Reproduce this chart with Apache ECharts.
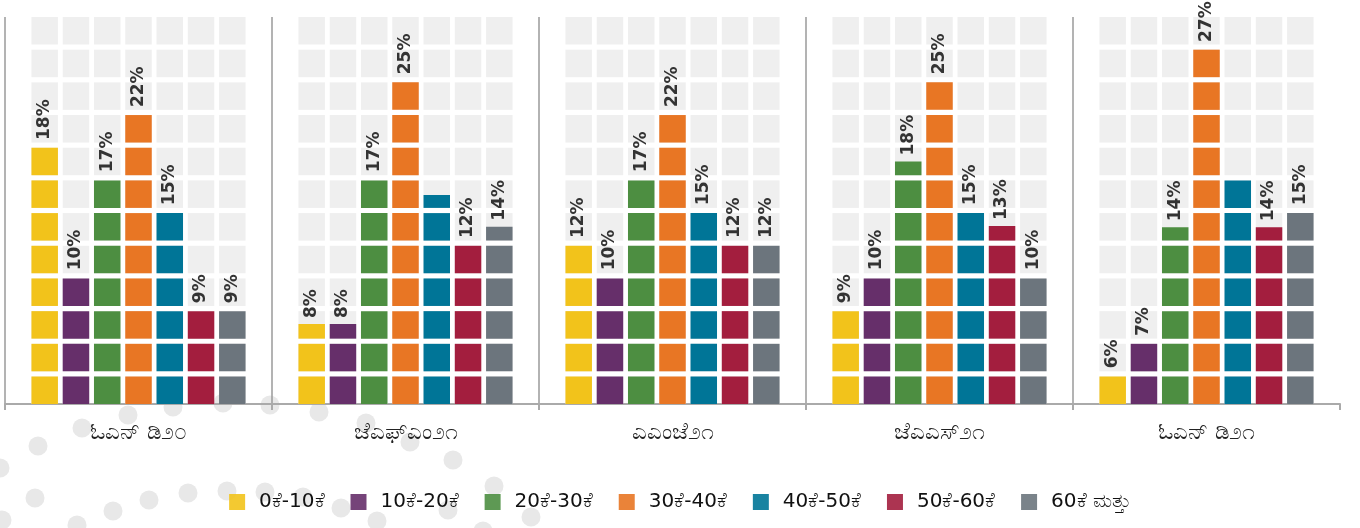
<!DOCTYPE html>
<html><head><meta charset="utf-8">
<script src="https://cdn.jsdelivr.net/npm/echarts@6/dist/echarts.min.js"></script>
<style>html,body{margin:0;padding:0;background:#fff}#c{width:1360px;height:528px}</style>
</head><body><div id="c"></div>
<script>
// Categories (quarters)
const categories = ['ಓಎನ್ ಡಿ೨೦', 'ಜೆಎಫ್ಎಂ೨೧', 'ಎಎಂಜೆ೨೧', 'ಜೆಎಎಸ್೨೧', 'ಓಎನ್ ಡಿ೨೧'];
// Series names (legend)
const seriesNames = ['0ಕೆ-10ಕೆ', '10ಕೆ-20ಕೆ', '20ಕೆ-30ಕೆ', '30ಕೆ-40ಕೆ', '40ಕೆ-50ಕೆ', '50ಕೆ-60ಕೆ', '60ಕೆ ಮತ್ತು'];
const colors = ['#f2c31b', '#662f6a', '#4d8e41', '#e87624', '#007597', '#a31e3e', '#6c757d'];

// Drawn bar heights (value scale 0-30)
const height_0_10  = [20, 6.2, 12.4, 7.35, 2.3];
const height_10_20 = [9.9, 6.2, 9.9, 9.9, 4.8];
const height_20_30 = [17.5, 17.5, 17.5, 18.8, 13.7];
const height_30_40 = [22.55, 25.1, 22.55, 25.1, 27.6];
const height_40_50 = [14.95, 16.2, 14.95, 14.95, 17.5];
const height_50_60 = [7.35, 12.4, 12.4, 13.8, 13.7];
const height_60_up = [7.35, 13.75, 12.4, 9.9, 14.95];

// Printed percentage labels
const label_0_10  = [18, 8, 12, 9, 6];
const label_10_20 = [10, 8, 10, 10, 7];
const label_20_30 = [17, 17, 17, 18, 14];
const label_30_40 = [22, 25, 22, 25, 27];
const label_40_50 = [15, null, 15, 15, null];
const label_50_60 = [9, 12, 12, 13, 14];
const label_60_up = [9, 14, 12, 10, 15];

const heights = [height_0_10, height_10_20, height_20_30, height_30_40, height_40_50, height_50_60, height_60_up];
const labels  = [label_0_10, label_10_20, label_20_30, label_30_40, label_40_50, label_50_60, label_60_up];

const yMax = 30;
const blockCount = 12;

const dots = [[173,407],[223,403],[270,405],[128,415],[82,428],[38,446],[0,468],[35,498],[2,520],[77,525],
  [113,511],[149,500],[188,493],[227,491],[265,492],[303,497],[341,508],[377,521],[319,412],[366,423],
  [410,442],[453,460],[494,486],[448,510],[531,517],[483,531]];

const common = {
  type: 'pictorialBar',
  symbol: 'rect',
  symbolRepeat: blockCount,
  symbolSize: [26.5, 27.5],
  symbolPosition: 'start',
  barWidth: 26.5,
  barGap: '18%'
};

const series = [];
seriesNames.forEach((n, i) => {
  series.push(Object.assign({}, common, {
    name: '__bg' + i,
    xAxisIndex: 1,
    silent: true,
    z: 1,
    itemStyle: { color: '#efefef' },
    data: categories.map(() => yMax)
  }));
});
seriesNames.forEach((n, i) => {
  series.push(Object.assign({}, common, {
    name: n,
    xAxisIndex: 0,
    z: 3,
    symbolClip: true,
    symbolBoundingData: yMax,
    itemStyle: { color: colors[i] },
    data: heights[i]
  }));
});
// invisible bars carrying the value labels at each bar's top
seriesNames.forEach((n, i) => {
  const lab = labels[i];
  series.push({
    type: 'bar', name: '__lab' + i, xAxisIndex: 0, z: 5, silent: true,
    barWidth: 26.5, barGap: '18%',
    itemStyle: { color: 'rgba(0,0,0,0)' },
    label: {
      show: true, position: 'top', rotate: 90, align: 'left', verticalAlign: 'middle',
      distance: 6, fontSize: 17, fontWeight: 'bold', color: '#333', fontFamily: 'DejaVu Sans',
      formatter: p => lab[p.dataIndex] == null ? '' : lab[p.dataIndex] + '%'
    },
    data: heights[i]
  });
});

const chart = echarts.init(document.getElementById('c'));
chart.setOption({
  animation: false,
  color: colors,
  graphic: dots.map(d => ({
    type: 'circle', silent: true, z: -10,
    shape: { cx: d[0], cy: d[1], r: 9.5 },
    style: { fill: '#e8e8e8' }
  })),
  grid: { left: 5, right: 20, top: 17, bottom: 124, containLabel: false },
  xAxis: [{
    type: 'category', data: categories,
    axisLine: { lineStyle: { color: '#aaaaaa', width: 2 } },
    axisTick: { show: true, length: 6, lineStyle: { color: '#aaaaaa', width: 2 } },
    axisLabel: { fontSize: 23, color: '#222', margin: 18, fontFamily: 'DejaVu Sans' },
    splitLine: { show: true, showMaxLine: false, lineStyle: { color: '#9a9a9a', width: 1.5 } }
  }, {
    type: 'category', data: categories, show: false
  }],
  yAxis: { type: 'value', min: 0, max: yMax, show: false },
  legend: {
    data: seriesNames, top: 487, left: 'center',
    icon: 'rect', itemWidth: 16, itemHeight: 16, itemGap: 26,
    itemStyle: { opacity: 0.9 },
    textStyle: { fontSize: 20, color: '#111', padding: [0, 0, 0, 9], fontFamily: 'DejaVu Sans' }
  },
  series: series
});
</script></body></html>
